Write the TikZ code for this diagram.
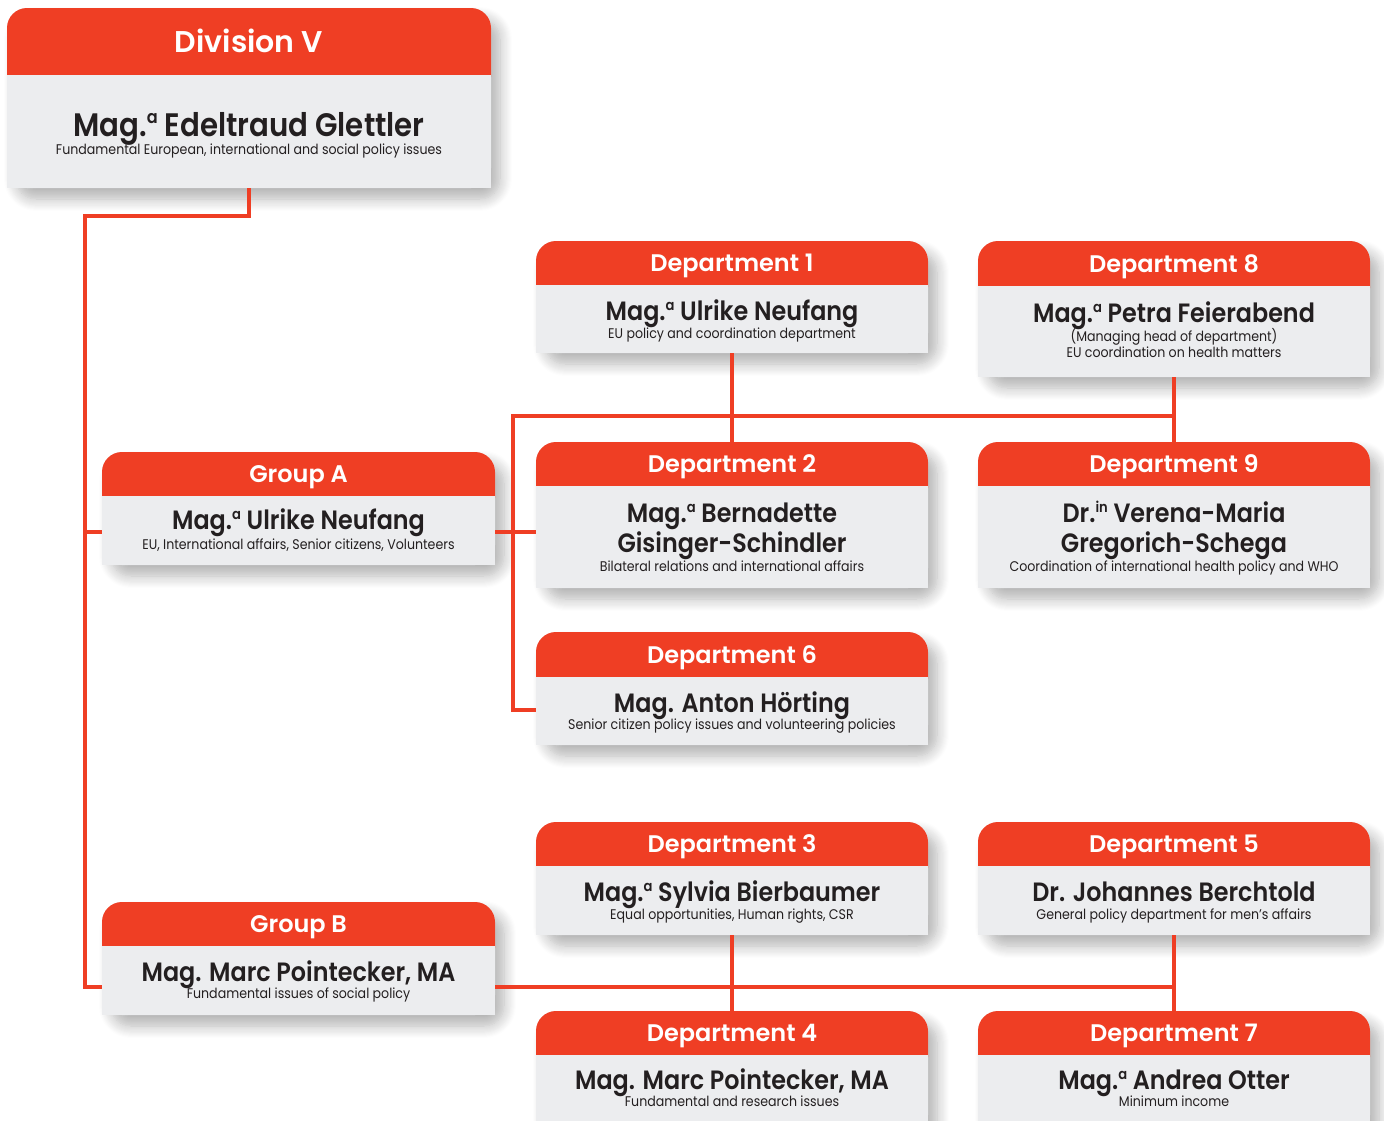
\documentclass[tikz,border=0pt]{standalone}
\usepackage{fontspec}
\setmainfont{Poppins}[BoldFont={Poppins SemiBold}]
\newfontfamily\namefont{Poppins SemiBold}[FakeStretch=0.9]
\newfontfamily\taskfont{Poppins}[FakeStretch=0.9]
\newcommand{\ord}[1]{\raisebox{.72ex}{\scalebox{.55}{#1}}}
\usetikzlibrary{calc,shadows.blur}

\begin{document}
\begin{tikzpicture}[x=1pt,y=-1pt,
  boxframe/.style={rounded corners=20,fill=bodygrey,inner sep=0,
    blur shadow={shadow xshift=9pt,shadow yshift=-11pt,shadow blur radius=12pt,shadow blur steps=12,shadow opacity=30}},
  ttl/.style={anchor=base,text=white},
  who/.style={anchor=base,text=ink,font=\namefont\fontsize{26.5}{26.5}\selectfont},
  what/.style={anchor=base,text=ink,font=\taskfont\fontsize{14}{14}\selectfont},
  link/.style={draw=hdred,line width=4pt}]
\definecolor{hdred}{HTML}{EF3E24}
\definecolor{bodygrey}{HTML}{ECEDEF}
\definecolor{ink}{HTML}{231F20}
\useasboundingbox (0,0) rectangle (1384,1120);
% boxes: name / left / right / top / bottom / header height / title size / title
  \foreach \nm/\xa/\xb/\ya/\yb/\hd/\fs/\ttl in {div/7/491/8/188/67/30/{Division V},
    ga/102/495/452/565/44/24/{Group A},gb/102/495/902/1015/44/24/{Group B},
    d1/536/928/241/353/44/24/{Department 1},d8/978/1370/241/377/45/24/{Department 8},
    d2/536/928/442/588/44/24/{Department 2},d9/978/1370/442/588/44/24/{Department 9},
    d6/536/928/632/745/45/24/{Department 6},
    d3/536/928/822/935/44/24/{Department 3},d5/978/1370/822/935/44/24/{Department 5},
    d4/536/928/1011/1135/44/24/{Department 4},d7/978/1370/1011/1135/44/24/{Department 7}}
  { \node [boxframe,minimum width={(\xb-\xa)*1pt},minimum height={(\yb-\ya)*1pt}] (\nm) at ({(\xa+\xb)/2},{(\ya+\yb)/2}) {};
    \fill [hdred,rounded corners=20] (\xa,\ya) rectangle (\xb,{\ya+\hd+22});
    \fill [bodygrey] (\xa,{\ya+\hd}) rectangle (\xb,\yb);
    \node [ttl,font=\bfseries\fontsize{\fs}{\fs}\selectfont] at ({(\xa+\xb)/2},{\ya+\hd/2+0.37*\fs}) {\ttl};}

% heads and their tasks
\node [who,font=\namefont\fontsize{32.5}{32.5}\selectfont] at ($(div.north)+(0,129)$) {Mag.\ord{a} Edeltraud Glettler};
\node [what] at ($(div.north)+(0,147)$) {Fundamental European, international and social policy issues};
\node [who] at ($(ga.north)+(0,78)$) {Mag.\ord{a} Ulrike Neufang};
\node [what] at ($(ga.north)+(0,98)$) {EU, International affairs, Senior citizens, Volunteers};
\node [who] at ($(gb.north)+(0,80)$) {Mag. Marc Pointecker, MA};
\node [what] at ($(gb.north)+(0,97)$) {Fundamental issues of social policy};
\node [who] at ($(d1.north)+(0,80)$) {Mag.\ord{a} Ulrike Neufang};
\node [what] at ($(d1.north)+(0,98)$) {EU policy and coordination department};
\node [who] at ($(d8.north)+(0,82)$) {Mag.\ord{a} Petra Feierabend};
\node [what] at ($(d8.north)+(0,101)$) {(Managing head of department)};
\node [what] at ($(d8.north)+(0,117)$) {EU coordination on health matters};
\node [who] at ($(d2.north)+(0,81)$) {Mag.\ord{a} Bernadette};
\node [who] at ($(d2.north)+(0,111)$) {Gisinger-Schindler};
\node [what] at ($(d2.north)+(0,130)$) {Bilateral relations and international affairs};
\node [who] at ($(d9.north)+(0,81)$) {Dr.\ord{in} Verena-Maria};
\node [who] at ($(d9.north)+(0,111)$) {Gregorich-Schega};
\node [what] at ($(d9.north)+(0,130)$) {Coordination of international health policy and WHO};
\node [who] at ($(d6.north)+(0,81)$) {Mag. Anton Hörting};
\node [what] at ($(d6.north)+(0,98)$) {Senior citizen policy issues and volunteering policies};
\node [who] at ($(d3.north)+(0,80)$) {Mag.\ord{a} Sylvia Bierbaumer};
\node [what] at ($(d3.north)+(0,98)$) {Equal opportunities, Human rights, CSR};
\node [who] at ($(d5.north)+(0,80)$) {Dr. Johannes Berchtold};
\node [what] at ($(d5.north)+(0,98)$) {General policy department for men’s affairs};
\node [who] at ($(d4.north)+(0,79)$) {Mag. Marc Pointecker, MA};
\node [what] at ($(d4.north)+(0,96)$) {Fundamental and research issues};
\node [who] at ($(d7.north)+(0,79)$) {Mag.\ord{a} Andrea Otter};
\node [what] at ($(d7.north)+(0,96)$) {Minimum income};

% connectors
\coordinate (trunk) at ($(div.south)+(0,28)$);
\coordinate (gbin) at ($(gb.south west)+(0,-28)$);
\coordinate (gain) at ($(ga.south west)+(0,-33)$);
\coordinate (gaout) at ($(ga.south east)+(0,-33)$);
\coordinate (bustop) at ($(d2.north west)+(-23,-26)$);
\coordinate (d6in) at ($(d6.south west)+(0,-35)$);
\coordinate (gbout) at ($(gb.south east)+(0,-28)$);
\draw [link] (div.south) -- (trunk) -| ($(gbin)+(-17,0)$) -- (gbin);
\draw [link] ($(gain)+(-17,0)$) -- (gain);
\draw [link] (gaout) -- (gaout -| d2.west);
\draw [link] (d8.south |- bustop) -- (bustop) |- (d6in);
\draw [link] (d1.south) -- (d2.north);
\draw [link] (d8.south) -- (d9.north);
\draw [link] (gbout) -- (gbout -| d5.south);
\draw [link] (d3.south) -- (d4.north);
\draw [link] (d5.south) -- (d7.north);
\end{tikzpicture}
\end{document}
